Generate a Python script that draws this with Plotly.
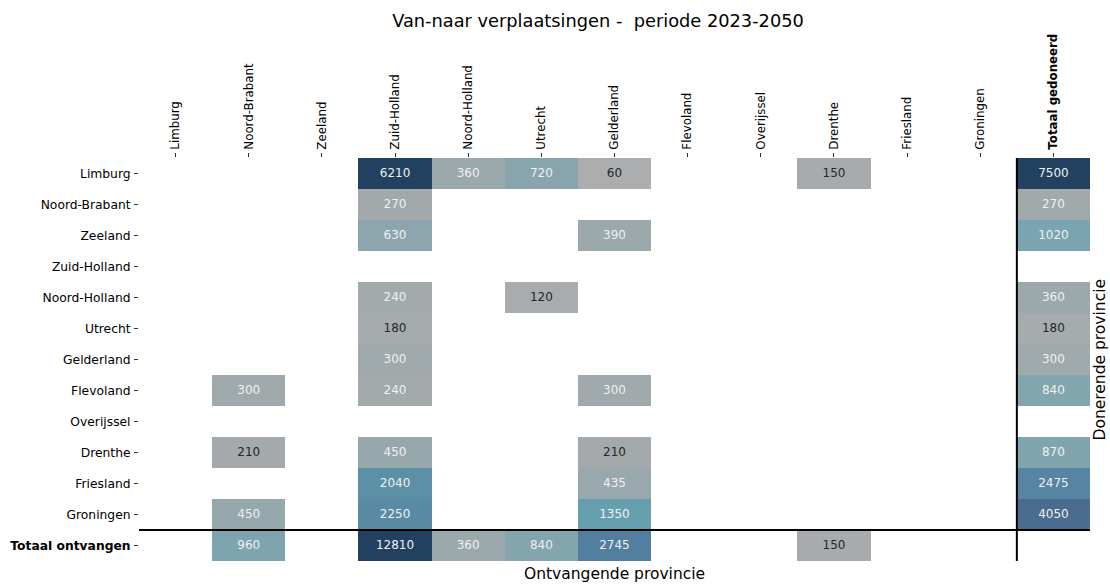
import plotly.graph_objects as go

# ---- data ----
receivers = ["Limburg", "Noord-Brabant", "Zeeland", "Zuid-Holland", "Noord-Holland", "Utrecht",
             "Gelderland", "Flevoland", "Overijssel", "Drenthe", "Friesland", "Groningen",
             "Totaal gedoneerd"]
donors = ["Limburg", "Noord-Brabant", "Zeeland", "Zuid-Holland", "Noord-Holland", "Utrecht",
          "Gelderland", "Flevoland", "Overijssel", "Drenthe", "Friesland", "Groningen",
          "Totaal ontvangen"]

N = None
row_limburg       = [N, N, N, 6210, 360, 720, 60, N, N, 150, N, N, 7500]
row_noord_brabant = [N, N, N, 270, N, N, N, N, N, N, N, N, 270]
row_zeeland       = [N, N, N, 630, N, N, 390, N, N, N, N, N, 1020]
row_zuid_holland  = [N, N, N, N, N, N, N, N, N, N, N, N, N]
row_noord_holland = [N, N, N, 240, N, 120, N, N, N, N, N, N, 360]
row_utrecht       = [N, N, N, 180, N, N, N, N, N, N, N, N, 180]
row_gelderland    = [N, N, N, 300, N, N, N, N, N, N, N, N, 300]
row_flevoland     = [N, 300, N, 240, N, N, 300, N, N, N, N, N, 840]
row_overijssel    = [N, N, N, N, N, N, N, N, N, N, N, N, N]
row_drenthe       = [N, 210, N, 450, N, N, 210, N, N, N, N, N, 870]
row_friesland     = [N, N, N, 2040, N, N, 435, N, N, N, N, N, 2475]
row_groningen     = [N, 450, N, 2250, N, N, 1350, N, N, N, N, N, 4050]
row_totaal        = [N, 960, N, 12810, 360, 840, 2745, N, N, 150, N, N, N]

z = [row_limburg, row_noord_brabant, row_zeeland, row_zuid_holland, row_noord_holland,
     row_utrecht, row_gelderland, row_flevoland, row_overijssel, row_drenthe,
     row_friesland, row_groningen, row_totaal]

title_text = "Van-naar verplaatsingen -  periode 2023-2050"

# ---- styling ----
FONT = "DejaVu Sans"
vmax = 6210
stops = [(0, "#aeafb0"), (60, "#acadaf"), (150, "#a7abad"), (300, "#a0a9ab"),
         (450, "#97a8ad"), (720, "#88a5ae"), (1020, "#7aa4af"), (1350, "#66a0ae"),
         (2040, "#5c90a6"), (2250, "#5a8ba5"), (2745, "#527ea0"), (4050, "#4a6c8e"),
         (6210, "#224160")]
colorscale = [[v / vmax, c] for v, c in stops]

nx = len(receivers)
ny = len(donors)
xs = list(range(nx))
ys = list(range(ny))

fig = go.Figure()
fig.add_trace(go.Heatmap(
    z=z, x=xs, y=ys, zmin=0, zmax=vmax, colorscale=colorscale,
    showscale=False, hoverongaps=False, xgap=0, ygap=0,
))

# cell annotations
tx, ty, tt, tc = [], [], [], []
for j, row in enumerate(z):
    for i, v in enumerate(row):
        if v is None:
            continue
        tx.append(i)
        ty.append(j)
        tt.append(str(v))
        tc.append("#262626" if v <= 210 else "#f0f0f0")
fig.add_trace(go.Scatter(
    x=tx, y=ty, text=tt, mode="text",
    textfont=dict(family=FONT, size=12, color=tc),
    hoverinfo="skip", showlegend=False,
))

# separator lines
fig.add_shape(type="line", xref="x", yref="y", x0=-0.5, x1=nx - 0.5, y0=ny - 1.5, y1=ny - 1.5,
              line=dict(color="black", width=2), layer="above")
fig.add_shape(type="line", xref="x", yref="y", x0=nx - 1.5, x1=nx - 1.5, y0=-0.5, y1=ny - 0.5,
              line=dict(color="black", width=2), layer="above")

xticktext = receivers[:-1] + ["<b>" + receivers[-1] + "</b>"]
yticktext = donors[:-1] + ["<b>" + donors[-1] + "</b>"]

L, R, T, B = 139, 1090, 158, 561

fig.update_layout(
    width=1110, height=585,
    margin=dict(l=L, r=1110 - R, t=T, b=585 - B, autoexpand=False),
    paper_bgcolor="white", plot_bgcolor="white",
    font=dict(family=FONT, color="black"),
    title=dict(text=title_text, x=598 / 1110, xanchor="center", xref="container",
               y=1 - 21 / 585, yanchor="middle", yref="container",
               font=dict(family=FONT, size=17.8, color="black")),
    showlegend=False,
)
fig.update_xaxes(
    side="top", tickmode="array", tickvals=xs, ticktext=xticktext, tickangle=-90,
    range=[-0.5, nx - 0.5], showgrid=False, zeroline=False, showline=False,
    ticks="outside", ticklen=4, tickcolor="#333333", tickwidth=1, ticklabelstandoff=1,
    tickfont=dict(family=FONT, size=11.8, color="black"),
)
fig.update_yaxes(
    tickmode="array", tickvals=ys, ticktext=yticktext,
    range=[ny - 0.5, -0.5], showgrid=False, zeroline=False, showline=False,
    ticks="outside", ticklen=4, tickcolor="#333333", tickwidth=1, ticklabelstandoff=1,
    tickfont=dict(family=FONT, size=12.3, color="black"),
)

fig.add_annotation(text="Donerende provincie", xref="paper", yref="paper",
                   x=(1099 - L) / (R - L), y=0.5, xanchor="center", yanchor="middle",
                   textangle=-90, showarrow=False,
                   font=dict(family=FONT, size=15.5, color="black"))
fig.add_annotation(text="Ontvangende provincie", xref="paper", yref="paper",
                   x=0.5, y=(B - 574) / (B - T), xanchor="center", yanchor="middle",
                   showarrow=False,
                   font=dict(family=FONT, size=15.5, color="black"))

fig.write_html("out.html", config={"displayModeBar": False},
               post_script="document.body.style.margin='0';")
